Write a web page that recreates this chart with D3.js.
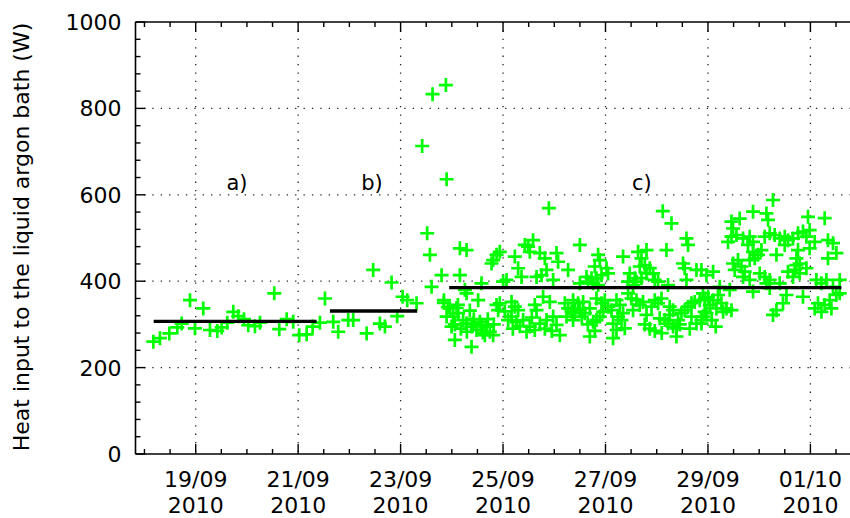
<!DOCTYPE html>
<html>
<head>
<meta charset="utf-8">
<script src="https://cdn.jsdelivr.net/npm/d3@7/dist/d3.min.js"></script>
<style>
  html, body { margin: 0; padding: 0; background: #fff; }
  svg { display: block; }
  text { font-family: "DejaVu Sans", sans-serif; fill: #000; }
</style>
</head>
<body>
<svg id="chart" width="850" height="518"></svg>
<script>
// Measurement start: 17/09/2010 00:00 UTC. Times are in days from this instant.
const startTime = Date.UTC(2010, 8, 17);

// Measured heat input (W) and the time of each measurement (days since start)
const dayOffset = [
  1.173, 1.303, 1.485, 1.641, 1.727, 1.889, 1.986, 2.148, 2.279, 2.421, 2.507, 2.617, 2.734, 2.831,
  2.942, 3.026, 3.157, 3.255, 3.534, 3.631, 3.776, 3.904, 4.021, 4.166, 4.283, 4.425, 4.523,
  4.685, 4.782, 4.978, 5.075, 5.337, 5.465, 5.596, 5.694, 5.824, 5.934, 6.039, 6.129, 6.312,
  6.421, 6.519, 6.572, 6.605, 6.624, 6.800, 6.845, 6.884, 6.898,
  6.898, 6.995, 7.059, 7.093, 7.221, 7.385, 7.288, 7.417, 7.157, 7.157, 7.288, 6.845, 7.255,
  7.514, 7.580, 6.962, 7.026, 7.124, 7.288, 7.385, 7.483, 7.580, 7.678, 7.742, 7.807, 7.645,
  7.873, 7.807, 7.873, 7.937, 7.776, 8.002, 8.068, 8.230, 8.295, 8.361, 8.425, 8.490, 8.587,
  8.523, 8.718, 8.816, 8.654, 8.751, 8.849, 8.978, 9.044, 9.075, 9.270, 9.499, 8.166, 8.230,
  8.295, 8.166, 8.100, 8.263, 7.937, 7.904, 8.620, 8.654, 8.782, 8.913, 8.392, 8.523, 8.459,
  8.620, 8.718, 8.849, 8.978, 9.044, 9.108, 9.206, 9.270, 9.337, 9.401, 9.465, 9.368, 9.239,
  9.499, 8.894,
  11.288, 11.580, 11.612, 9.856, 9.889, 10.343, 10.636, 10.800, 10.702, 11.190, 9.791, 10.020,
  10.051, 9.629, 9.727, 9.824, 9.922, 9.661, 9.758, 9.856, 10.474, 10.572, 10.669, 10.767,
  10.864, 10.929, 10.800, 10.702, 10.441, 10.538, 10.605, 10.962, 11.026, 11.514, 11.547,
  11.776, 11.580, 11.971, 11.221, 9.368, 9.563, 9.401, 9.499, 9.596, 9.694, 9.824, 9.922,
  9.986, 10.051, 10.117, 9.953, 9.889, 9.824, 9.758, 10.215, 10.279, 10.343, 10.246, 10.312,
  10.377, 10.148, 10.215, 9.694, 10.148, 10.441, 10.507, 10.605, 10.669, 10.733, 10.538,
  10.800, 10.898, 10.962, 11.026, 11.093, 11.059, 11.157, 11.254, 11.221, 11.319, 11.385,
  11.417, 11.483, 11.547, 11.612, 11.678, 11.742, 11.840, 11.937, 11.385, 11.254, 11.319,
  11.678, 11.776, 11.873, 11.971, 11.118,
  13.270, 12.880, 13.141, 13.173, 12.459, 12.620, 12.490, 13.953, 14.279, 12.392, 12.459,
  12.556, 12.685, 12.815, 12.880, 12.782, 13.108, 13.206, 13.303, 13.401, 13.499, 13.563,
  13.660, 13.758, 13.855, 13.986, 13.922, 14.084, 13.986, 14.343, 14.441, 14.507, 14.343,
  12.880, 12.978, 13.044, 13.337, 13.499, 13.758, 13.727, 13.791, 12.490, 12.587, 12.654,
  12.523, 12.718, 12.815, 12.913, 12.100, 11.873, 13.011, 13.108, 13.206, 13.141, 12.815,
  12.685, 13.727, 13.694, 13.791, 13.922, 13.660, 13.563, 12.880, 13.206, 13.401, 13.532,
  13.465, 13.337, 13.270, 13.855, 14.117, 14.215, 14.312, 14.441, 14.572, 14.507, 14.376,
  14.279, 14.148, 14.084, 14.215, 14.410, 14.572, 11.904, 12.002, 12.100, 12.197, 12.263,
  12.361, 12.459, 12.295, 12.166, 12.035, 11.937, 11.873, 11.904, 12.230, 12.425,
  6.923, 7.059, 7.177, 7.294, 7.430, 7.547, 7.703, 7.820, 7.352, 7.606, 7.118, 8.035,
  8.191, 8.328, 8.562, 8.816, 8.952, 9.538, 9.655, 9.791, 10.767, 10.864, 10.962, 11.098,
  11.450, 11.645, 12.074, 12.152
];
const heatW = [
  260, 268, 279, 293, 302, 356, 291, 337, 287, 285, 293, 304, 329, 319,
  312, 298, 296, 304, 372, 289, 312, 306, 275, 277, 295, 304, 360,
  306, 283, 310, 310, 279, 426, 302, 295, 397, 319, 364, 356, 349,
  713, 511, 461, 387, 833, 414, 350, 854, 636,
  318, 295, 264, 338, 310, 248, 372, 302, 414, 476, 472, 356, 380,
  356, 395, 337, 318, 326, 302, 295, 287, 299, 295, 283, 275, 275,
  345, 449, 461, 468, 441, 399, 403, 457, 430, 410, 484, 480, 495,
  468, 465, 453, 410, 414, 426, 403, 465, 445, 426, 484, 352, 341,
  333, 318, 310, 306, 349, 333, 345, 333, 364, 352, 310, 295, 283,
  287, 302, 310, 318, 299, 275, 349, 337, 329, 326, 349, 310, 318,
  395, 569,
  534, 499, 484, 461, 449, 457, 468, 472, 453, 472, 434, 430,
  418, 410, 407, 407, 414, 399, 395, 391, 418, 407, 434, 437,
  430, 418, 418, 407, 399, 391, 399, 403, 399, 441, 430,
  426, 403, 414, 391, 356, 352, 337, 333, 326, 337, 360, 349,
  356, 341, 333, 329, 318, 310, 306, 356, 345, 326, 318, 310,
  291, 302, 287, 272, 268, 372, 360, 356, 345, 352, 333,
  322, 341, 356, 349, 360, 314, 310, 322, 302, 295, 291,
  310, 326, 333, 341, 349, 352, 356, 360, 272, 341, 333,
  318, 302, 310, 326, 562,
  588, 561, 557, 542, 538, 545, 522, 549, 546, 491, 503,
  507, 499, 503, 491, 484, 503, 511, 507, 499, 503, 495,
  499, 511, 515, 518, 503, 491, 476, 495, 488, 465, 453,
  468, 461, 472, 461, 484, 472, 453, 441, 441, 449, 434,
  426, 422, 449, 453, 422, 426, 418, 410, 403, 395, 403,
  410, 437, 426, 418, 430, 410, 422, 376, 384, 395, 368,
  349, 333, 322, 364, 403, 395, 403, 387, 403, 368, 356,
  345, 349, 337, 329, 337, 372, 372, 364, 356, 368, 349,
  337, 333, 329, 337, 345, 329, 302, 318, 387, 380,
  340, 300, 290, 283, 312, 306, 312, 300, 332, 281, 345, 330,
  290, 296, 316, 290, 285, 318, 300, 285, 300, 290, 285, 280,
  300, 290, 310, 295
];

// Mean heat input over the three operating periods
const periodLabels = ["a)", "b)", "c)"];
const periodStart = [1.180, 4.620, 6.948];
const periodEnd = [4.361, 6.324, 14.605];
const periodMean = [307, 331, 385];
const periodLabelDay = [2.806, 5.440, 10.709];
const periodLabelW = [611, 611, 611];

// Axis ticks
const yTicks = [0, 200, 400, 600, 800, 1000];
const xTickDays = [2, 4, 6, 8, 10, 12, 14];
const yTitle = "Heat input to the liquid argon bath (W)";

const dayMs = 86400000;
const toDate = d => new Date(startTime + d * dayMs);

const svg = d3.select("#chart");
const plotL = 135.5, plotT = 22, plotB = 454, plotR = 877;

const x = d3.scaleUtc()
  .domain([toDate(0.825), toDate(15.3)])
  .range([plotL, plotR]);
const y = d3.scaleLinear().domain([0, 1000]).range([plotB, plotT]);

svg.append("defs").append("clipPath").attr("id", "plot")
  .append("rect").attr("x", plotL).attr("y", plotT)
  .attr("width", plotR - plotL).attr("height", plotB - plotT);

// Dotted grid
const grid = svg.append("g").attr("stroke", "#222").attr("stroke-width", 1.3)
  .attr("stroke-dasharray", "1.3 7.1");
grid.selectAll(".hg").data(yTicks.filter(v => v > 0 && v < 1000)).join("line")
  .attr("x1", plotL).attr("x2", plotR).attr("y1", d => y(d)).attr("y2", d => y(d));
grid.selectAll(".vg").data(xTickDays).join("line")
  .attr("x1", d => x(toDate(d))).attr("x2", d => x(toDate(d)))
  .attr("y1", plotT).attr("y2", plotB);

// Measurements
const pts = d3.range(dayOffset.length).map(i => ({ t: toDate(dayOffset[i]), v: heatW[i] }));
svg.append("g").attr("clip-path", "url(#plot)")
  .selectAll("path").data(pts).join("path")
  .attr("transform", d => `translate(${x(d.t)},${y(d.v)})`)
  .attr("d", "M-7,0H7M0,-7V7")
  .attr("fill", "none").attr("stroke", "#00ff00").attr("stroke-width", 2.7);

// Period means
svg.append("g").selectAll("line").data(periodMean).join("line")
  .attr("x1", (d, i) => x(toDate(periodStart[i])))
  .attr("x2", (d, i) => x(toDate(periodEnd[i])))
  .attr("y1", d => y(d)).attr("y2", d => y(d))
  .attr("stroke", "#000").attr("stroke-width", 3.3);

svg.append("g").selectAll("text").data(periodLabels).join("text")
  .attr("x", (d, i) => x(toDate(periodLabelDay[i])))
  .attr("y", (d, i) => y(periodLabelW[i]))
  .attr("text-anchor", "middle").attr("font-size", 21)
  .text(d => d);

// Axes: frame with inward major and minor ticks
const axes = svg.append("g").attr("stroke", "#000");
axes.append("line").attr("x1", plotL).attr("x2", plotL).attr("y1", plotT).attr("y2", plotB).attr("stroke-width", 1.6);
axes.append("line").attr("x1", plotL).attr("x2", 850).attr("y1", plotB).attr("y2", plotB).attr("stroke-width", 1.6);
axes.append("line").attr("x1", plotL).attr("x2", 850).attr("y1", plotT).attr("y2", plotT).attr("stroke-width", 1.6);

const xMinor = d3.range(1.0, 15.3, 0.5);
const xMajorSet = new Set(xTickDays);
axes.selectAll(".xt").data(xMinor).join("g").each(function (d) {
  const px = x(toDate(d));
  const len = xMajorSet.has(d) ? 10 : 5;
  const g = d3.select(this);
  g.append("line").attr("x1", px).attr("x2", px).attr("y1", plotB).attr("y2", plotB - len).attr("stroke-width", 1.4);
  g.append("line").attr("x1", px).attr("x2", px).attr("y1", plotT).attr("y2", plotT + len).attr("stroke-width", 1.4);
});

const yMinor = d3.range(0, 1001, 40);
axes.selectAll(".yt").data(yMinor).join("line")
  .attr("x1", plotL).attr("x2", d => plotL + (d % 200 === 0 ? 10 : 5))
  .attr("y1", d => y(d)).attr("y2", d => y(d)).attr("stroke-width", 1.4);

// Tick labels
svg.append("g").selectAll("text").data(yTicks).join("text")
  .attr("x", plotL - 14).attr("y", d => y(d) + 8)
  .attr("text-anchor", "end").attr("font-size", 22)
  .text(d => d);

const fmtDay = d3.utcFormat("%d/%m"), fmtYear = d3.utcFormat("%Y");
const xl = svg.append("g").selectAll("g").data(xTickDays).join("g");
xl.append("text").attr("x", d => x(toDate(d))).attr("y", 487)
  .attr("text-anchor", "middle").attr("font-size", 22).text(d => fmtDay(toDate(d)));
xl.append("text").attr("x", d => x(toDate(d))).attr("y", 513)
  .attr("text-anchor", "middle").attr("font-size", 22).text(d => fmtYear(toDate(d)));

// Axis title
svg.append("text")
  .attr("transform", "translate(29,237) rotate(-90)")
  .attr("text-anchor", "middle").attr("font-size", 22)
  .text(yTitle);
</script>
</body>
</html>
